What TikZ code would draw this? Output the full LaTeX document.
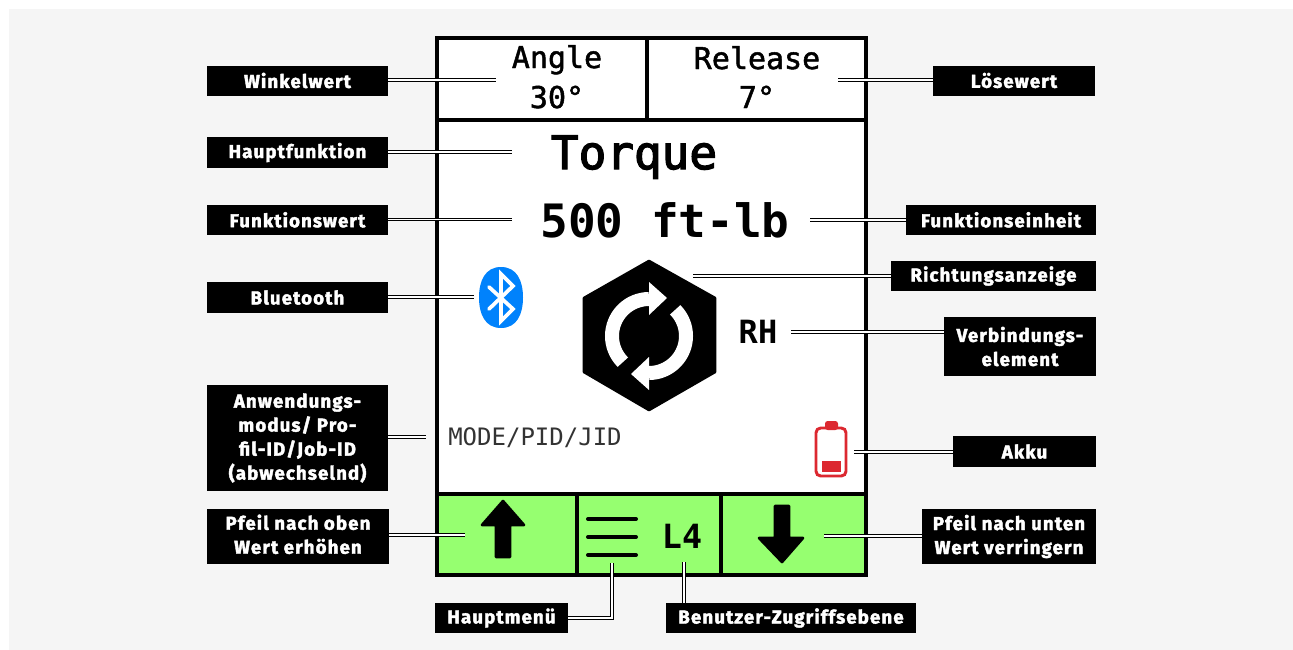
\documentclass[tikz,border=0pt]{standalone}
\usepackage{fontspec}
\setmainfont{Liberation Sans}
\newfontfamily\lblfont[LetterSpace=6]{Fira Sans Bold}
\newfontfamily\scr{DejaVu Sans Mono}
\newfontfamily\scrb{DejaVu Sans Mono Bold}
\newcommand{\thicktext}[2]{\special{pdf:code 2 Tr #1 w}#2\special{pdf:code 0 Tr}}
\definecolor{pagebg}{HTML}{F5F5F5}
\definecolor{btn}{HTML}{96FF70}
\definecolor{bt}{HTML}{0082FC}
\definecolor{batt}{HTML}{DC2830}
\definecolor{modegrey}{HTML}{333333}
\tikzset{
  x=0.75pt,y=-0.75pt,
  lbl/.style={fill=black,text=white,inner sep=0pt,align=center,font=\lblfont\fontsize{14}{18}\selectfont,anchor=center},
  leader/.style={draw=black,double=white,double distance=0.9pt,line width=1pt,line cap=butt,line join=miter},
  frame/.style={draw=black,line width=3.2pt},
  scrtext/.style={inner sep=0pt,anchor=base,text=black},
  small/.style={scrtext,font=\scr\fontsize{22.5}{24}\selectfont},
  menuline/.style={draw=black,line width=3pt,line cap=round},
}
\begin{document}
\begin{tikzpicture}
\useasboundingbox (0,0) rectangle (1293,650);
\fill[pagebg] (9,9) rectangle (1293,650);
% screen
\fill[white] (437,38) rectangle (866,494);
\fill[btn] (437,494) rectangle (866,575);
\draw[frame] (437,38) rectangle (866,575);
\draw[frame] (437,120) -- (866,120);
\draw[frame] (647,38) -- (647,120);
\draw[frame] (437,494) -- (866,494);
\draw[frame] (577,494) -- (577,575);
\draw[frame] (721,494) -- (721,575);
% screen text
\node[small] (angle) at (557,68) {\thicktext{0.35}{Angle}};
\node[small] (angleval) at (557,108) {\thicktext{0.35}{30°}};
\node[small] (release) at (757,69) {\thicktext{0.35}{Release}};
\node[small] (releaseval) at (757,108) {\thicktext{0.35}{7°}};
\node[scrtext,font=\scr\fontsize{34.5}{36}\selectfont] (torque) at (634,169) {\thicktext{1}{Torque}};
\node[scrtext,font=\scrb\fontsize{34.5}{36}\selectfont] (value) at (665,237) {500 ft-lb};
\node[scrtext,font=\scrb\fontsize{24}{24}\selectfont] (rh) at (758,343) {RH};
\node[scrtext,anchor=base west,text=modegrey,font=\scr\fontsize{18}{20}\selectfont] (mode) at (448,445) {MODE/PID/JID};
\node[scrtext,font=\scrb\fontsize{25}{24}\selectfont] (lfour) at (682,548) {L4};
% hexagon
\fill[black,draw=black,line width=2pt,line join=round] (649,261) -- (715,298) -- (715,372) -- (649,410) -- (584,372) -- (584,298) -- cycle;
\begin{scope}[shift={(649,336)},x=0.75pt,y=0.75pt]
  \foreach \r in {0,180}{
    \begin{scope}[rotate=\r]
      \draw[white,line width=10.5pt] (225:37) arc[start angle=225,end angle=90,radius=37];
      \fill[white] (0,54) -- (18,38) -- (0,21) -- cycle;
    \end{scope}
  }
\end{scope}
% bluetooth
\fill[bt] (501,267) .. controls (517,267) and (523,281) .. (523,297.5) .. controls (523,314) and (517,328) .. (501,328) .. controls (485,328) and (479,314) .. (479,297.5) .. controls (479,281) and (485,267) .. (501,267) -- cycle;
\draw[white,line width=2.8pt,line join=miter,line cap=round] (489,287) -- (513,309) -- (501,321) -- (501,274) -- (513,286) -- (489,309);
% battery
\draw[batt,line width=2.2pt,rounded corners=3.5pt] (816,428) rectangle (846,476);
\fill[batt,rounded corners=2pt] (825,421) rectangle (838,430);
\fill[batt] (822,461) rectangle (841,472);
% arrows in the buttons
\fill[black,draw=black,line width=2pt,line join=round] (503,501) -- (524,525) -- (510,525) -- (510,557) -- (496,557) -- (496,525) -- (482,525) -- cycle;
\fill[black,draw=black,line width=2pt,line join=round] (782,562) -- (803,538) -- (789,538) -- (789,506) -- (775,506) -- (775,538) -- (759,538) -- cycle;
\draw[menuline] (588,519) -- (636,519);
\draw[menuline] (588,537) -- (636,537);
\draw[menuline] (588,555) -- (636,555);
% labels
\node[lbl,minimum width=135.75pt,minimum height=22.5pt] (winkel) at (297.5,81) {\raisebox{1pt}{\thicktext{0.3}{Winkelwert}}};
\node[lbl,minimum width=121.5pt,minimum height=22.5pt] (loese) at (1014,81) {\raisebox{1pt}{\thicktext{0.3}{Lösewert}}};
\node[lbl,minimum width=135.75pt,minimum height=23.25pt] (haupt) at (297.5,152.5) {\thicktext{0.3}{Hauptfunktion}};
\node[lbl,minimum width=135.75pt,minimum height=22.5pt] (fwert) at (297.5,220) {\raisebox{0.5pt}{\thicktext{0.3}{Funktionswert}}};
\node[lbl,minimum width=142.5pt,minimum height=22.5pt] (feinh) at (1001,220) {\raisebox{0.5pt}{\thicktext{0.3}{Funktionseinheit}}};
\node[lbl,minimum width=153.75pt,minimum height=22.5pt] (richt) at (993.5,276) {\raisebox{0.5pt}{\thicktext{0.3}{Richtungsanzeige}}};
\node[lbl,minimum width=135.75pt,minimum height=23.25pt] (blue) at (297.5,297.5) {\thicktext{0.3}{Bluetooth}};
\node[lbl,minimum width=114pt,minimum height=44.25pt] (verb) at (1020,346.5) {\thicktext{0.3}{Verbindungs-}\\\thicktext{0.3}{element}};
\node[lbl,minimum width=135.75pt,minimum height=79.5pt] (anw) at (297.5,438) {\thicktext{0.3}{Anwendungs-}\\\thicktext{0.3}{modus/ Pro-}\\\thicktext{0.3}{fil-ID/Job-ID}\\\thicktext{0.3}{(abwechselnd)}};
\node[lbl,minimum width=107.25pt,minimum height=23.25pt] (akku) at (1024.5,451.5) {\thicktext{0.3}{Akku}};
\node[lbl,minimum width=136.5pt,minimum height=41.25pt] (pfoben) at (298,536.5) {\thicktext{0.3}{Pfeil nach oben}\\\thicktext{0.3}{Wert erhöhen}\rule[-3.5pt]{0pt}{1pt}};
\node[lbl,minimum width=130.5pt,minimum height=41.25pt] (pfunten) at (1009,536.5) {\thicktext{0.3}{Pfeil nach unten}\\\thicktext{0.3}{Wert verringern}};
\node[lbl,minimum width=99.75pt,minimum height=22.5pt] (hmenu) at (501.5,618) {\thicktext{0.3}{Hauptmenü}};
\node[lbl,minimum width=187.5pt,minimum height=22.5pt] (benutzer) at (791,618) {\thicktext{0.3}{Benutzer-Zugriffsebene}};
% leader ends
\coordinate (twinkel) at (496,80);
\coordinate (tloese) at (838,80);
\coordinate (thaupt) at (512,152);
\coordinate (tfwert) at (512,219.5);
\coordinate (tfeinh) at (810,220);
\coordinate (trich) at (693,276);
\coordinate (tblue) at (474,297);
\coordinate (tverb) at (791,332);
\coordinate (tanw) at (426,437);
\coordinate (takku) at (854,452);
\coordinate (tpfo) at (465,535);
\coordinate (tpfu) at (824,536);
\coordinate (tmenu) at (612,563);
\coordinate (tben) at (684,562);
% leaders
\draw[leader] (winkel.east |- twinkel) -- (twinkel);
\draw[leader] (loese.west |- tloese) -- (tloese);
\draw[leader] (haupt.east |- thaupt) -- (thaupt);
\draw[leader] (fwert.east |- tfwert) -- (tfwert);
\draw[leader] (feinh.west |- tfeinh) -- (tfeinh);
\draw[leader] (richt.west |- trich) -- (trich);
\draw[leader] (blue.east |- tblue) -- (tblue);
\draw[leader] (verb.west |- tverb) -- (tverb);
\draw[leader] (anw.east |- tanw) -- (tanw);
\draw[leader] (akku.west |- takku) -- (takku);
\draw[leader] (pfoben.east |- tpfo) -- (tpfo);
\draw[leader] (pfunten.west |- tpfu) -- (tpfu);
\draw[leader] (hmenu.east) -- (tmenu |- hmenu.east) -- (tmenu);
\draw[leader] (benutzer.north -| tben) -- (tben);
\end{tikzpicture}
\end{document}
